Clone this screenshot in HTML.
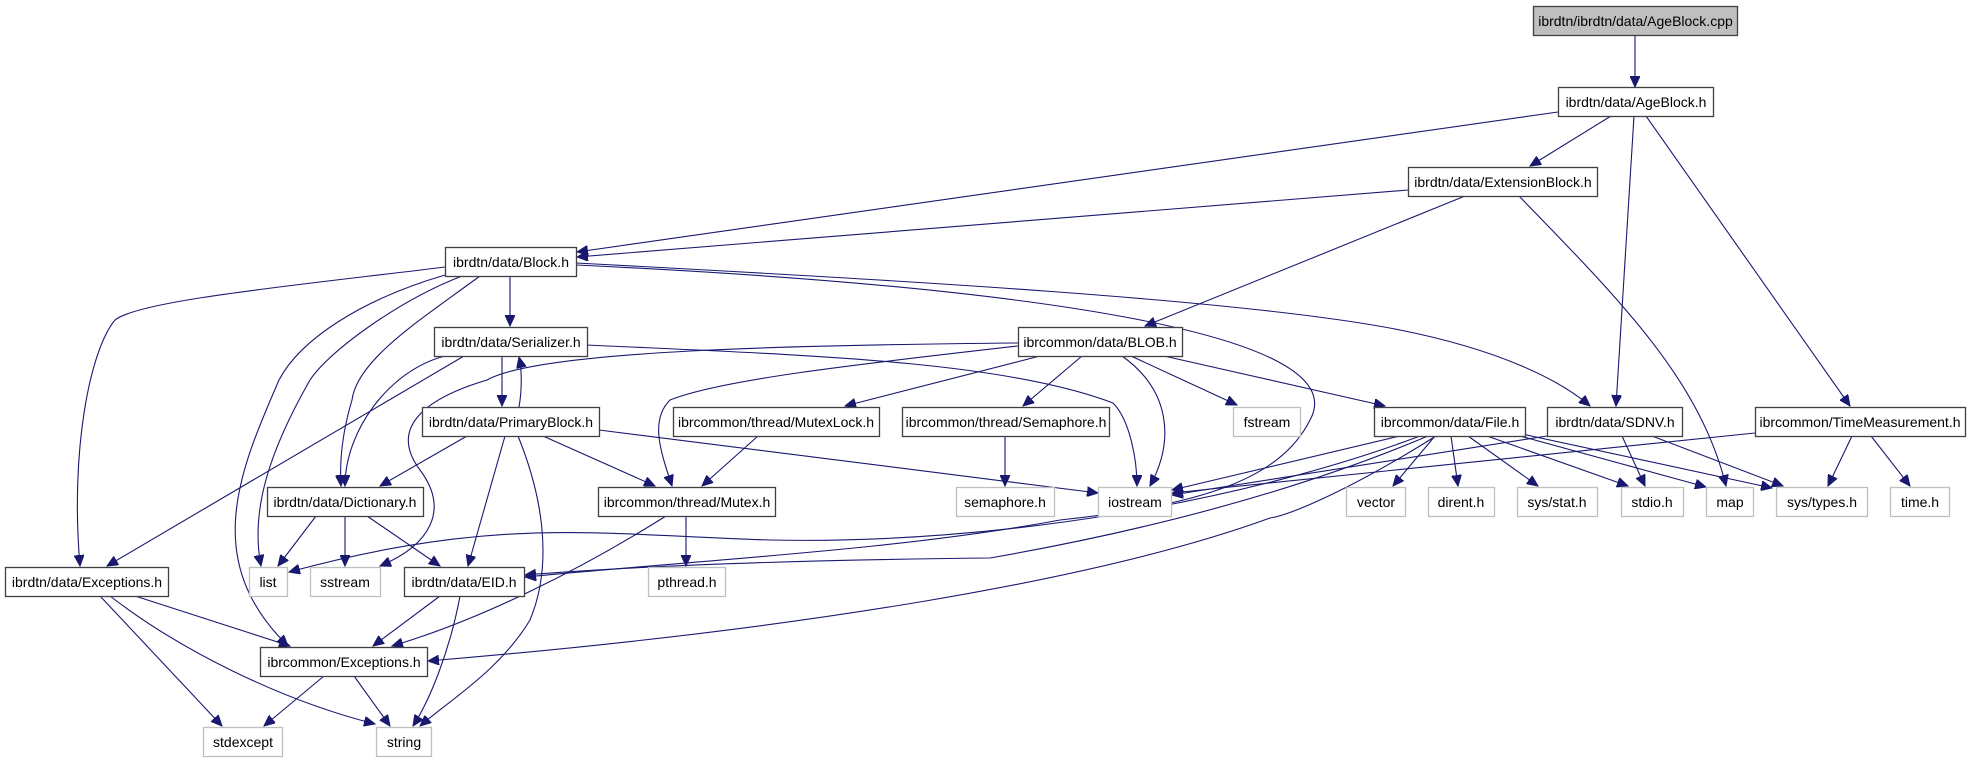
<!DOCTYPE html>
<html><head><meta charset="utf-8"><style>
html,body{margin:0;padding:0;background:#fff;}
svg{display:block;}
text{font-family:"Liberation Sans",Arial,sans-serif;font-size:14px;fill:#000;}
</style></head><body>
<svg width="1969" height="763" viewBox="0 0 1969 763" xmlns="http://www.w3.org/2000/svg">
<defs>
<marker id="a" markerWidth="12" markerHeight="10" refX="11" refY="5" orient="auto" markerUnits="userSpaceOnUse">
<path d="M0,0 L11,5 L0,10 z" fill="#191970" stroke="#191970"/>
</marker>
</defs>
<g fill="none" stroke="#191970" stroke-width="1.1" marker-end="url(#a)">
<path d="M1635,36 L1635,87"/>
<path d="M1558,112 L577,252"/>
<path d="M1611,116 L1530,166"/>
<path d="M1634,116 L1616,406"/>
<path d="M1646,116 L1850,406"/>
<path d="M1408,190 L577,257"/>
<path d="M1465,196 L1145,326"/>
<path d="M1519,196 C1620,300 1700,380 1726,486"/>
<path d="M510,276 L510,326"/>
<path d="M576,263 C900,280 1250,300 1400,330 C1500,350 1560,380 1590,406"/>
<path d="M576,265 C1000,285 1360,330 1310,420 C1280,480 1200,505 1060,520 C900,550 700,560 525,577"/>
<path d="M445,267 C300,285 140,300 115,320 C90,350 70,450 80,566"/>
<path d="M445,275 C360,300 300,340 279,380 C240,470 200,560 288,646"/>
<path d="M462,276 C400,300 330,350 310,380 C270,450 250,510 261,566"/>
<path d="M480,276 C420,320 357,360 352,400 C340,440 340,470 341,486"/>
<path d="M502,356 L502,406"/>
<path d="M519,407 C522,390 522,370 519,357"/>
<path d="M445,356 C390,370 345,430 345,486"/>
<path d="M464,356 L107,566"/>
<path d="M587,345 C800,355 1000,360 1113,403 C1130,420 1137,460 1137,486"/>
<path d="M1018,343 C800,345 540,350 487,380 C420,400 390,430 420,470 C450,510 430,545 380,566"/>
<path d="M1018,346 C850,365 720,380 670,400 C650,420 660,450 672,486"/>
<path d="M1040,356 L845,406"/>
<path d="M1082,356 L1023,406"/>
<path d="M1122,356 C1170,390 1175,440 1150,486"/>
<path d="M1131,356 L1237,405"/>
<path d="M1164,356 L1385,406"/>
<path d="M467,436 L380,486"/>
<path d="M505,436 L468,566"/>
<path d="M518,436 C540,490 555,560 530,620 C500,670 450,700 420,726"/>
<path d="M543,436 L655,486"/>
<path d="M599,430 L1098,493"/>
<path d="M758,436 L702,486"/>
<path d="M1005,436 L1005,486"/>
<path d="M686,516 L686,566"/>
<path d="M666,516 C580,570 480,620 392,646"/>
<path d="M1400,436 L1172,490"/>
<path d="M1420,436 C1250,500 1000,545 770,540 C600,535 500,515 289,572"/>
<path d="M1428,436 C1300,490 1150,530 990,558 C800,560 650,565 525,575"/>
<path d="M1436,436 C1350,490 1290,515 1270,518 C1100,580 800,630 428,661"/>
<path d="M1435,436 L1393,486"/>
<path d="M1451,436 L1458,486"/>
<path d="M1468,436 L1538,486"/>
<path d="M1487,436 L1628,486"/>
<path d="M1520,436 L1706,487"/>
<path d="M1522,434 L1772,488"/>
<path d="M1547,436 L1172,495"/>
<path d="M1622,436 L1645,486"/>
<path d="M1652,436 L1783,486"/>
<path d="M1755,433 L1172,493"/>
<path d="M1852,436 L1828,486"/>
<path d="M1871,436 L1910,486"/>
<path d="M316,516 L278,566"/>
<path d="M345,516 L345,566"/>
<path d="M367,516 L440,566"/>
<path d="M440,596 L373,646"/>
<path d="M460,596 C450,650 430,700 413,726"/>
<path d="M135,596 L290,646"/>
<path d="M100,596 L222,726"/>
<path d="M110,596 C180,650 280,700 375,724"/>
<path d="M324,676 L264,726"/>
<path d="M354,676 L390,726"/>
</g>
<g stroke-width="1.3">
<rect x="1533.5" y="6.5" width="204" height="29" fill="#bfbfbf" stroke="#404040"/>
<rect x="1558.5" y="87.5" width="155" height="29" fill="#fff" stroke="#404040"/>
<rect x="1408.5" y="167.5" width="189" height="29" fill="#fff" stroke="#404040"/>
<rect x="445.5" y="247.5" width="131" height="29" fill="#fff" stroke="#404040"/>
<rect x="434.5" y="327.5" width="153" height="29" fill="#fff" stroke="#404040"/>
<rect x="1018.5" y="327.5" width="164" height="29" fill="#fff" stroke="#404040"/>
<rect x="422.5" y="407.5" width="177" height="29" fill="#fff" stroke="#404040"/>
<rect x="673.5" y="407.5" width="206" height="29" fill="#fff" stroke="#404040"/>
<rect x="902.5" y="407.5" width="207" height="29" fill="#fff" stroke="#404040"/>
<rect x="1233.5" y="407.5" width="67" height="29" fill="#fff" stroke="#bfbfbf"/>
<rect x="1374.5" y="407.5" width="151" height="29" fill="#fff" stroke="#404040"/>
<rect x="1547.5" y="407.5" width="135" height="29" fill="#fff" stroke="#404040"/>
<rect x="1755.5" y="407.5" width="210" height="29" fill="#fff" stroke="#404040"/>
<rect x="267.5" y="487.5" width="156" height="29" fill="#fff" stroke="#404040"/>
<rect x="598.5" y="487.5" width="177" height="29" fill="#fff" stroke="#404040"/>
<rect x="956.5" y="487.5" width="98" height="29" fill="#fff" stroke="#bfbfbf"/>
<rect x="1098.5" y="487.5" width="73" height="29" fill="#fff" stroke="#bfbfbf"/>
<rect x="1346.5" y="487.5" width="59" height="29" fill="#fff" stroke="#bfbfbf"/>
<rect x="1428.5" y="487.5" width="66" height="29" fill="#fff" stroke="#bfbfbf"/>
<rect x="1517.5" y="487.5" width="80" height="29" fill="#fff" stroke="#bfbfbf"/>
<rect x="1621.5" y="487.5" width="62" height="29" fill="#fff" stroke="#bfbfbf"/>
<rect x="1706.5" y="487.5" width="47" height="29" fill="#fff" stroke="#bfbfbf"/>
<rect x="1776.5" y="487.5" width="91" height="29" fill="#fff" stroke="#bfbfbf"/>
<rect x="1890.5" y="487.5" width="59" height="29" fill="#fff" stroke="#bfbfbf"/>
<rect x="5.5" y="567.5" width="163" height="29" fill="#fff" stroke="#404040"/>
<rect x="249.5" y="567.5" width="38" height="29" fill="#fff" stroke="#bfbfbf"/>
<rect x="310.5" y="567.5" width="70" height="29" fill="#fff" stroke="#bfbfbf"/>
<rect x="404.5" y="567.5" width="120" height="29" fill="#fff" stroke="#404040"/>
<rect x="648.5" y="567.5" width="77" height="29" fill="#fff" stroke="#bfbfbf"/>
<rect x="260.5" y="647.5" width="167" height="29" fill="#fff" stroke="#404040"/>
<rect x="203.5" y="727.5" width="79" height="29" fill="#fff" stroke="#bfbfbf"/>
<rect x="376.5" y="727.5" width="55" height="29" fill="#fff" stroke="#bfbfbf"/>
</g>
<g text-anchor="middle">
<text x="1635.5" y="26">ibrdtn/ibrdtn/data/AgeBlock.cpp</text>
<text x="1636" y="107">ibrdtn/data/AgeBlock.h</text>
<text x="1503" y="187">ibrdtn/data/ExtensionBlock.h</text>
<text x="511" y="267">ibrdtn/data/Block.h</text>
<text x="511" y="347">ibrdtn/data/Serializer.h</text>
<text x="1100" y="347">ibrcommon/data/BLOB.h</text>
<text x="511" y="427">ibrdtn/data/PrimaryBlock.h</text>
<text x="776" y="427">ibrcommon/thread/MutexLock.h</text>
<text x="1006" y="427">ibrcommon/thread/Semaphore.h</text>
<text x="1267" y="427">fstream</text>
<text x="1450" y="427">ibrcommon/data/File.h</text>
<text x="1615" y="427">ibrdtn/data/SDNV.h</text>
<text x="1860" y="427">ibrcommon/TimeMeasurement.h</text>
<text x="345" y="507">ibrdtn/data/Dictionary.h</text>
<text x="687" y="507">ibrcommon/thread/Mutex.h</text>
<text x="1005" y="507">semaphore.h</text>
<text x="1135" y="507">iostream</text>
<text x="1376" y="507">vector</text>
<text x="1461" y="507">dirent.h</text>
<text x="1557" y="507">sys/stat.h</text>
<text x="1652" y="507">stdio.h</text>
<text x="1730" y="507">map</text>
<text x="1822" y="507">sys/types.h</text>
<text x="1920" y="507">time.h</text>
<text x="87" y="587">ibrdtn/data/Exceptions.h</text>
<text x="268" y="587">list</text>
<text x="345" y="587">sstream</text>
<text x="464" y="587">ibrdtn/data/EID.h</text>
<text x="687" y="587">pthread.h</text>
<text x="344" y="667">ibrcommon/Exceptions.h</text>
<text x="243" y="747">stdexcept</text>
<text x="404" y="747">string</text>
</g>
</svg>
</body></html>
